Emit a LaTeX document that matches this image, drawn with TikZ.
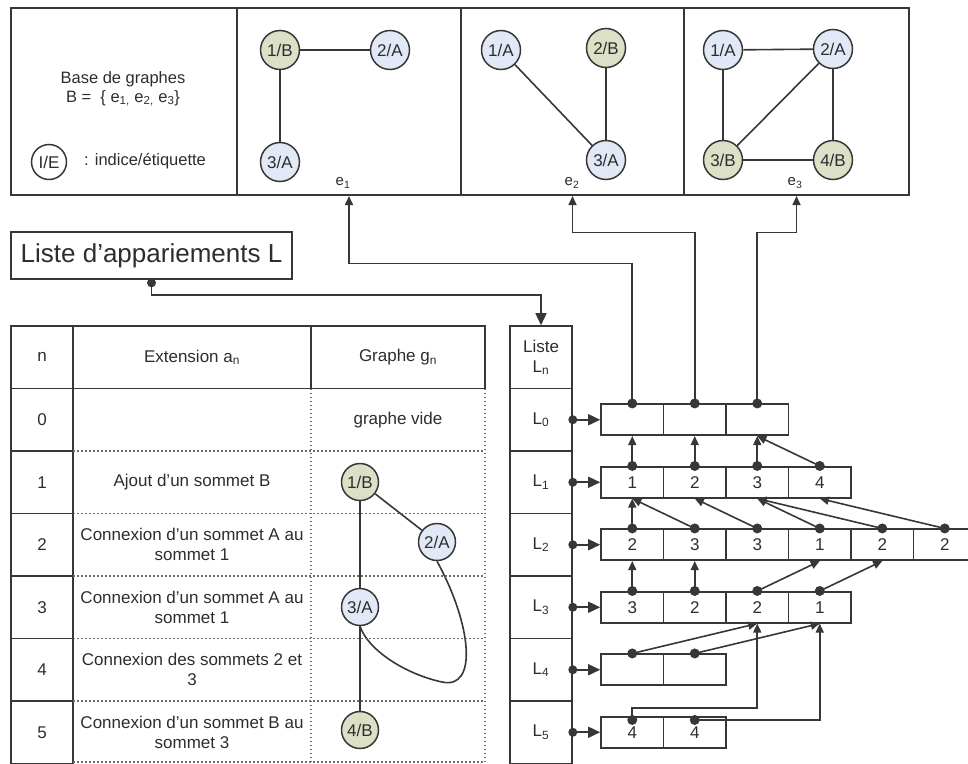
\documentclass[tikz,border=0pt]{standalone}
\usepackage{fontspec}
\setmainfont{Liberation Sans}
\usetikzlibrary{arrows.meta}
\definecolor{lc}{RGB}{55,55,55}
\definecolor{txt}{RGB}{45,45,45}
\definecolor{greenB}{RGB}{220,224,198}
\definecolor{blueA}{RGB}{226,233,246}
\definecolor{dotc}{RGB}{110,110,110}
\pgfdeclarelayer{bg}
\pgfsetlayers{bg,main}
\begin{document}
\begin{tikzpicture}[x=1pt,y=-1pt,
  every node/.style={text=txt},
  ln/.style={draw=lc, line width=1.6pt},
  frame/.style={draw=lc, line width=2pt},
  dotl/.style={draw=dotc, line width=1.1pt, dash pattern=on 1.5pt off 2.5pt},
  vtx/.style={circle, draw=lc, line width=1.5pt, minimum size=39pt, inner sep=0pt, font=\fontsize{17}{20}\selectfont},
  vA/.style={vtx, fill=blueA},
  vB/.style={vtx, fill=greenB},
  gvA/.style={vA, minimum size=37pt},
  gvB/.style={vB, minimum size=37pt},
  cell/.style={rectangle, draw=lc, line width=1.6pt, minimum width=62.5pt, minimum height=31pt, inner sep=0pt, font=\fontsize{17}{20}\selectfont},
  lcell/.style={rectangle, draw=lc, line width=1.6pt, minimum width=62pt, minimum height=62.5pt, inner sep=0pt, align=center, font=\fontsize{17}{20}\selectfont},
  ncell/.style={lcell},
  txtn/.style={align=center, inner sep=0pt, font=\fontsize{17}{20}\selectfont},
  bigarr/.style={ln, -{Triangle[length=12pt,width=11pt]}},
  ptr/.style={ln, -{Triangle[length=9pt,width=8pt]}},
  pdot/.style={circle, fill=lc, inner sep=0pt, minimum size=10pt}
]
\useasboundingbox (0,0) rectangle (968,763);

% ---------- top panel ----------
\node[frame, rectangle, minimum width=226pt, minimum height=187pt, inner sep=0pt] (P0) at (124,101.5) {};
\node[frame, rectangle, minimum width=224pt, minimum height=187pt, inner sep=0pt] (P1) at (349,101.5) {};
\node[frame, rectangle, minimum width=223pt, minimum height=187pt, inner sep=0pt] (P2) at (572.5,101.5) {};
\node[frame, rectangle, minimum width=225pt, minimum height=187pt, inner sep=0pt] (P3) at (796.5,101.5) {};

\node[txtn, font=\fontsize{16.5}{18.5}\selectfont] (base) at (123,89) {Base de graphes\\B =~~\{ e\textsubscript{1,} e\textsubscript{2,} e\textsubscript{3}\}};
\node[vtx, fill=white, minimum size=35pt] (IE) at (49,162) {I/E};
\node[txtn, anchor=west, font=\fontsize{16.5}{18.5}\selectfont] (IEt) at (84,161) {: indice/étiquette};

% e1
\node[vB] (a1) at (280,50) {1/B};
\node[vA] (a2) at (390,50) {2/A};
\node[vA] (a3) at (280,162) {3/A};
\draw[ln] (a1) -- (a2);
\draw[ln] (a1) -- (a3);
\node[txtn, font=\fontsize{15}{18}\selectfont] (e1) at (343,183) {e\textsubscript{1}};
% e2
\node[vA] (b1) at (501,50) {1/A};
\node[vB] (b2) at (606,48) {2/B};
\node[vA] (b3) at (606,160) {3/A};
\draw[ln] (b1) -- (b3);
\draw[ln] (b2) -- (b3);
\node[txtn, font=\fontsize{15}{18}\selectfont] (e2) at (572,183) {e\textsubscript{2}};
% e3
\node[vA] (c1) at (723,50) {1/A};
\node[vA] (c2) at (833,49) {2/A};
\node[vB] (c3) at (723,160) {3/B};
\node[vB] (c4) at (833,160) {4/B};
\draw[ln] (c1) -- (c2);
\draw[ln] (c1) -- (c3);
\draw[ln] (c2) -- (c3);
\draw[ln] (c2) -- (c4);
\draw[ln] (c3) -- (c4);
\node[txtn, font=\fontsize{15}{18}\selectfont] (e3) at (795,183) {e\textsubscript{3}};

% ---------- Liste d'appariements ----------
\node[ln, rectangle, minimum width=281pt, minimum height=47pt, inner sep=0pt, font=\fontsize{26}{30}\selectfont] (LA) at (151.5,255.5) {Liste d’appariements L};

% ---------- table ----------
\node[ncell] (nh) at (42,357.25) {n};
\node[ncell] (n0) at (42,419.75) {0};
\node[ncell] (n1) at (42,482.25) {1};
\node[ncell] (n2) at (42,544.75) {2};
\node[ncell] (n3) at (42,607.25) {3};
\node[ncell] (n4) at (42,669.75) {4};
\node[ncell] (n5) at (42,732.25) {5};
\node[lcell, minimum width=238pt] (xh) at (192,357.25) {Extension a\textsubscript{n}};
\node[lcell, minimum width=174pt] (gh) at (398,357.25) {Graphe g\textsubscript{n}};

\draw[dotl] (311,388.5) -- (311,763.5);
\draw[dotl] (485,388.5) -- (485,763.5);
\foreach \yy in {451,513.5,576,638.5,701,762} \draw[dotl] (73,\yy) -- (485,\yy);

\node[txtn] (x1) at (192,482.25) {Ajout d’un sommet B};
\node[txtn] (x2) at (192,544.75) {Connexion d’un sommet A au\\sommet 1};
\node[txtn] (x3) at (192,607.25) {Connexion d’un sommet A au\\sommet 1};
\node[txtn] (x4) at (192,669.75) {Connexion des sommets 2 et\\3};
\node[txtn] (x5) at (192,732.25) {Connexion d’un sommet B au\\sommet 3};
\node[txtn] (gv) at (398,419.75) {graphe vide};

\node[gvB] (g1) at (360,482) {1/B};
\node[gvA] (g2) at (437,542) {2/A};
\node[gvA] (g3) at (360,607) {3/A};
\node[gvB] (g4) at (360,730) {4/B};
\begin{pgfonlayer}{bg}
\draw[ln] (g1) -- (g3);
\draw[ln] (g3) -- (g4);
\draw[ln] (g1) -- (g2);
\draw[ln] (g2.south) .. controls (472,625) and (478,690) .. (442,682) .. controls (405,674) and (368,650) .. (g3.south);
\end{pgfonlayer}

% ---------- Liste column ----------
\node[lcell] (LH) at (541,357.25) {Liste\\L\textsubscript{n}};
\foreach \k/\yy in {0/419.75,1/482.25,2/544.75,3/607.25,4/669.75,5/732.25}
  \node[lcell] (Ln\k) at (541,\yy) {L\textsubscript{\k}};

% ---------- arrays ----------
\foreach \i/\t in {1/,2/,3/} \node[cell] (L0-\i) at ({632.25+62.5*(\i-1)},419.75) {\t};
\foreach \i/\t in {1/1,2/2,3/3,4/4} \node[cell] (L1-\i) at ({632.25+62.5*(\i-1)},482.25) {\t};
\foreach \i/\t in {1/2,2/3,3/3,4/1,5/2,6/2} \node[cell] (L2-\i) at ({632.25+62.5*(\i-1)},544.75) {\t};
\foreach \i/\t in {1/3,2/2,3/2,4/1} \node[cell] (L3-\i) at ({632.25+62.5*(\i-1)},607.25) {\t};
\foreach \i/\t in {1/,2/} \node[cell] (L4-\i) at ({632.25+62.5*(\i-1)},669.75) {\t};
\foreach \i/\t in {1/4,2/4} \node[cell] (L5-\i) at ({632.25+62.5*(\i-1)},732.25) {\t};

% Liste -> arrays
\foreach \k in {0,...,5} {
  \draw[bigarr] (Ln\k.east) -- (L\k-1.west);
  \node[pdot, minimum size=9pt] (dLn\k) at (Ln\k.east) {};
}

% Liste d'appariements -> Liste
\draw[bigarr] (LA.south) -- ++(0,15) -| (LH.north);
\node[pdot, minimum size=9pt] (dLA) at ([yshift=-3pt]LA.south) {};

% L0 -> base graphs
\draw[ptr] (L0-1.north) -- ++(0,-140) -| (P1.south);
\draw[ptr] (L0-2.north) -- ++(0,-171) -| (P2.south);
\draw[ptr] (L0-3.north) -- ++(0,-171) -| (P3.south);
\foreach \i in {1,2,3} \node[pdot] (d0\i) at (L0-\i.north) {};

% L1 -> L0
\draw[ptr] (L1-1.north) -- (L0-1.south);
\draw[ptr] (L1-2.north) -- (L0-2.south);
\draw[ptr] (L1-3.north) -- (L0-3.south);
\draw[ptr] (L1-4.north) -- (L0-3.south);
\foreach \i in {1,...,4} \node[pdot] (d1\i) at (L1-\i.north) {};

% L2 -> L1
\draw[ptr] (L2-1.north) -- (L1-1.south);
\draw[ptr] (L2-2.north) -- (L1-1.south);
\draw[ptr] (L2-3.north) -- (L1-2.south);
\draw[ptr] (L2-4.north) -- (L1-3.south);
\draw[ptr] (L2-5.north) -- (L1-3.south);
\draw[ptr] (L2-6.north) -- (L1-4.south);
\foreach \i in {1,...,6} \node[pdot] (d2\i) at (L2-\i.north) {};

% L3 -> L2
\draw[ptr] (L3-1.north) -- (L2-1.south);
\draw[ptr] (L3-2.north) -- (L2-2.south);
\draw[ptr] (L3-3.north) -- (L2-4.south);
\draw[ptr] (L3-4.north) -- (L2-5.south);
\foreach \i in {1,...,4} \node[pdot] (d3\i) at (L3-\i.north) {};

% L4 -> L3
\draw[ptr] (L4-1.north) -- (L3-3.south);
\draw[ptr] (L4-2.north) -- (L3-4.south);
\foreach \i in {1,2} \node[pdot] (d4\i) at (L4-\i.north) {};

% L5 -> L3
\draw[ptr] ([yshift=-4pt]L5-1.north) -- ++(0,-12) -| (L3-3.south);
\draw[ptr] ([yshift=-4pt]L5-2.north) -| (L3-4.south);
\foreach \i in {1,2} \node[pdot] (d5\i) at ([yshift=-4pt]L5-\i.north) {};
\end{tikzpicture}
\end{document}
